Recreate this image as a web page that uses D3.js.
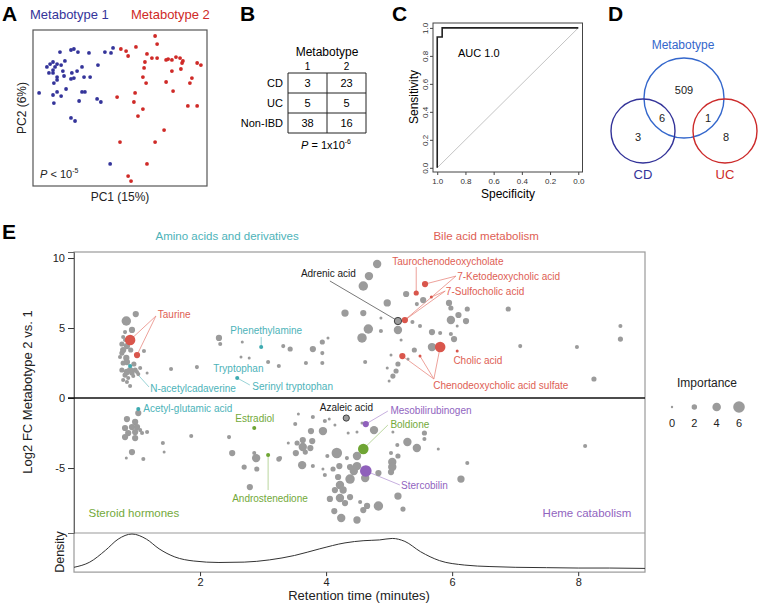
<!DOCTYPE html>
<html>
<head>
<meta charset="utf-8">
<script src="https://cdn.jsdelivr.net/npm/d3@7"></script>
<style>
  body { margin: 0; background: #fff; }
  svg { font-family: "Liberation Sans", Arial, Helvetica, sans-serif; }
</style>
</head>
<body>
<svg id="fig" width="758" height="604"></svg>
<script>
// ---------- data ----------
var metabotypeNames = ["Metabotype 1", "Metabotype 2"];

// panel A: PCA scores (PC1, PC2)
var pcaMetabotype1 = [[-20.7,21.5],[-16.9,22.3],[-15.9,22.7],[-14.5,21.5],[-10.7,21.2],[-5.2,21.5],[-2.4,23.1],[-3.1,21.2],
  [-19.0,18.1],[-23.1,17.7],[-24.1,16.9],[-21.7,16.9],[-20.3,16.5],[-25.2,15.8],[-22.4,15.8],[-23.1,14.6],[-19.7,14.2],
  [-16.6,13.5],[-14.8,14.2],[-13.1,15.8],[-7.6,16.5],[-24.5,13.5],[-23.1,13.5],[-21.7,11.9],[-21.7,10.8],[-19.3,12.3],
  [-16.9,11.2],[-15.9,11.5],[-12.4,11.9],[-10.3,11.9],[-22.8,9.6],[-18.6,7.3],[-27.9,5.8],[-21.7,6.2],[-20.3,4.6],
  [-23.1,5.0],[-13.1,6.2],[-12.1,6.2],[-14.1,2.7],[-7.9,3.5],[-6.6,2.3],[-22.8,1.9],[-16.9,-3.8],[-15.5,-5.0],[-3.4,-21.5]];
var pcaMetabotype2 = [[12.1,27.7],[12.8,24.6],[0.3,22.7],[2.1,21.9],[5.5,23.5],[2.8,20.0],[9.3,20.8],[11.0,19.2],[12.8,19.2],
  [15.9,18.5],[16.6,18.8],[17.9,18.5],[19.3,19.6],[20.7,19.2],[21.4,17.3],[8.6,17.7],[8.3,15.4],[17.9,14.2],[21.0,15.0],
  [26.6,17.3],[27.9,16.5],[7.9,11.9],[9.0,9.6],[15.9,10.0],[24.8,11.5],[24.1,9.6],[18.3,6.5],[5.2,5.8],[-1.0,4.2],
  [4.8,2.3],[23.4,0.8],[26.6,0.8],[7.9,-0.4],[6.2,-3.1],[15.2,-8.5],[0.0,-13.1],[12.1,-13.1],[9.3,-21.5],[2.8,-26.2],
  [3.8,-28.1],[21.7,18.1]];

// panel B: contingency table
var tableRows = ["CD", "UC", "Non-IBD"];
var tableMetabotype1 = [3, 5, 38];
var tableMetabotype2 = [23, 5, 16];

// panel C: ROC curve
var rocSpecificity = [1, 1, 0.965, 0.965, 0];
var rocSensitivity = [0, 0.935, 0.935, 1, 1];
var rocTicks = [1, 0.8, 0.6, 0.4, 0.2, 0];

// panel D: venn counts
var vennSets = ["Metabotype", "CD", "UC"];
var vennCounts = { metabotype: 509, metCD: 6, metUC: 1, cd: 3, uc: 8 };

// panel E: [retention time, log2 FC, importance]
var grayPoints = [
  [0.83,5.5,4.6],[0.98,6.0,2.5],[0.92,4.86,2.5],[0.78,4.36,1.1],[0.81,4.71,1.1],[0.84,3.71,2.5],[0.78,3.43,2.5],[0.76,3.21,1.8],
  [0.83,2.86,2.5],[0.84,2.57,2.5],[0.78,2.5,1.8],[0.89,2.0,2.5],[0.84,1.86,2.5],[0.76,2.0,1.8],[0.81,1.64,1.8],[0.92,1.79,1.8],
  [0.97,2.0,1.8],[1.0,1.86,1.1],[0.86,1.43,1.1],[0.84,1.14,1.1],[0.89,0.86,1.1],[0.78,1.29,1.1],[1.05,2.14,1.1],[1.11,3.36,1.1],
  [1.16,1.79,0.4],[0.94,1.57,1.1],[1.02,1.71,1.1],[0.81,4.14,1.1],[0.76,3.86,1.8],[0.9,3.43,1.8],[0.95,2.43,1.8],[0.73,2.93,1.1],
  [1.54,2.07,1.1],[1.95,2.21,1.1],[2.3,4.29,2.5],[2.32,3.86,1.1],[2.67,4.0,0.4],[2.65,2.93,0.4],[2.78,2.86,0.4],[3.08,2.57,1.1],
  [3.25,2.29,1.1],[3.32,3.71,1.1],[3.43,3.5,1.8],[3.68,2.5,1.1],[3.79,3.5,2.5],[3.94,4.0,1.8],[4.03,4.29,0.4],[3.94,3.21,1.1],
  [3.94,2.5,1.1],
  [4.81,9.57,3.9],[4.68,8.71,3.9],[4.59,8.0,4.6],[5.27,7.43,2.5],[5.54,7.0,2.5],[5.44,6.71,1.1],[4.97,6.79,3.2],[4.3,6.07,3.2],
  [4.59,6.07,2.5],[4.87,5.71,0.4],[5.37,5.43,1.1],[5.49,5.14,1.1],[4.67,4.93,4.6],[4.87,4.79,1.1],[5.14,4.86,3.9],[5.68,4.71,2.5],
  [5.81,4.64,1.1],[4.57,4.29,4.6],[5.19,4.14,0.4],[5.4,3.43,1.8],[5.68,3.64,3.9],[5.03,3.07,0.4],[5.3,2.79,0.4],[4.62,2.57,1.1],
  [5.14,2.43,1.8],[4.97,2.14,0.4],[5.11,1.93,1.8],[5.06,1.57,1.8],[5.0,1.21,0.4],
  [5.95,6.79,2.5],[5.98,6.43,1.8],[6.1,5.93,2.5],[6.24,6.36,1.8],[6.89,6.36,1.8],[5.98,5.57,3.9],[6.22,5.5,2.5],[6.08,5.14,0.4],
  [5.98,4.57,1.1],[6.03,4.21,2.5],[7.08,3.71,1.1],[7.98,3.64,1.1],[8.67,5.14,1.1],[8.67,4.21,1.8],[8.25,1.36,1.8],
  [1.02,-1.07,2.5],[0.84,-1.5,2.5],[0.97,-1.71,2.5],[0.92,-2.07,2.5],[0.81,-2.14,2.5],[1.0,-2.07,2.5],[1.05,-2.29,1.1],
  [0.86,-2.5,2.5],[0.97,-2.43,2.5],[0.81,-2.79,2.5],[0.97,-2.86,2.5],[1.08,-2.5,1.1],[1.16,-2.43,1.1],[0.92,-3.86,2.5],
  [0.83,-4.29,0.4],[1.1,-4.36,1.1],[1.41,-3.21,1.1],[1.43,-3.86,0.4],[1.86,-2.71,1.1],[2.46,-2.79,1.1],[2.51,-3.93,2.5],
  [2.86,-3.93,1.1],[2.89,-4.29,3.9],[2.7,-4.93,1.8],[2.9,-5.07,1.8],[3.25,-4.36,1.8],[2.79,-6.36,2.5],
  [3.56,-1.14,0.4],[3.79,-1.36,1.1],[3.98,-1.64,1.1],[4.05,-1.5,0.4],[4.14,-1.93,0.4],[3.51,-1.86,1.1],[3.76,-2.36,2.5],
  [3.95,-2.36,3.9],[4.76,-2.29,3.9],[4.57,-1.79,0.4],[4.35,-2.5,0.4],[4.49,-2.43,0.4],[5.06,-2.43,0.4],[5.56,-2.5,1.8],
  [5.56,-2.93,1.1],[5.29,-3.14,3.9],[5.13,-3.36,1.1],[5.44,-3.57,3.9],[5.78,-3.64,0.4],
  [3.4,-3.21,0.4],[3.54,-3.21,1.8],[3.63,-3.0,2.5],[3.78,-3.07,2.5],[3.63,-3.5,3.9],[3.75,-3.57,2.5],[3.52,-3.93,2.5],
  [3.67,-3.86,1.8],[3.27,-4.29,1.1],[4.02,-4.14,1.1],[4.17,-3.93,5.3],[4.49,-4.14,3.9],[4.33,-4.29,1.1],[4.49,-4.86,3.9],
  [4.44,-5.21,3.9],[5.03,-3.93,1.1],[5.14,-4.14,1.8],[5.05,-4.57,3.9],[5.05,-4.93,3.9],[5.03,-5.29,2.5],[3.62,-4.79,3.9],
  [3.79,-4.86,1.1],[3.95,-5.07,0.4],[4.11,-5.07,1.8],[4.21,-4.86,2.5],[4.38,-4.93,2.5],[4.83,-5.36,2.5],[4.62,-5.71,3.9],
  [4.38,-5.79,4.6],[4.19,-5.64,2.5],[4.22,-6.21,3.9],[3.98,-5.5,1.1],[4.14,-6.57,2.5],[4.27,-6.57,3.2],[4.38,-7.07,2.5],
  [4.22,-7.14,3.9],[4.3,-7.5,2.5],[4.54,-7.43,1.1],[4.65,-7.71,2.5],[4.59,-8.0,2.5],[4.83,-7.71,4.6],[5.22,-7.93,1.8],
  [4.24,-8.57,3.9],[4.49,-8.71,3.2],[4.06,-7.21,2.5],[4.13,-8.07,2.5],[5.14,-7.0,3.2],[6.24,-4.64,1.1],[6.14,-5.79,3.2],
  [8.11,-3.43,1.1]
];

// highlighted metabolites: [rt, log2FC, importance, class]
var highlightPoints = [
  [0.89,4.14,5.3,"bile"],      // 0 taurine
  [1.0,3.07,2.5,"bile"],       // 1 taurine
  [0.89,2.29,1.1,"amino"],     // 2 N-acetylcadaverine
  [2.97,3.64,1.1,"amino"],     // 3 phenethylamine
  [2.59,1.43,1.1,"amino"],     // 4 serinyl tryptophan
  [5.43,7.5,1.8,"bile"],       // 5 taurochenodeoxycholate
  [5.57,8.14,2.5,"bile"],      // 6 7-ketodeoxycholic
  [5.67,7.21,0.4,"bile"],      // 7 7-sulfocholic
  [5.25,5.57,2.5,"bile"],      // 8
  [6.08,3.36,0.4,"bile"],      // 9 cholic acid
  [5.21,3.0,2.5,"bile"],       // 10 CDCA sulfate
  [5.49,3.0,0.4,"bile"],       // 11
  [5.81,3.64,5.3,"bile"],      // 12
  [1.02,-0.79,1.1,"amino"],    // 13 acetyl-glutamic
  [2.86,-2.14,1.1,"steroid"],  // 14 estradiol
  [3.08,-4.07,1.1,"steroid"],  // 15 androstenedione
  [4.63,-1.86,2.5,"heme"],     // 16 mesobilirubinogen
  [4.59,-3.64,5.3,"steroid"],  // 17 boldione
  [4.63,-5.21,6.0,"heme"],     // 18 stercobilin
  [5.14,5.5,3.2,"other"],      // 19 adrenic acid
  [4.32,-1.43,2.5,"other"]     // 20 azaleic acid
];

// labels: text, class, label position (rt, fc), leader start, target points
var metaboliteLabels = [
  { text: "Taurine", cls: "bile", rt: 1.33, fc: 5.71, from: [1.3, 5.86], to: [0, 1] },
  { text: "Phenethylamine", cls: "amino", rt: 3.05, fc: 4.57, anchor: "middle", from: [2.97, 4.36], to: [3] },
  { text: "Tryptophan", cls: "amino", rt: 2.21, fc: 1.86, to: [] },
  { text: "Serinyl tryptophan", cls: "amino", rt: 2.83, fc: 0.57, from: [2.79, 0.93], to: [4] },
  { text: "N-acetylcadaverine", cls: "amino", rt: 1.21, fc: 0.43, from: [1.19, 0.79], to: [2] },
  { text: "Adrenic acid", cls: "other", rt: 3.6, fc: 8.64, from: [4.06, 8.36], to: [19] },
  { text: "Taurochenodeoxycholate", cls: "bile", rt: 5.05, fc: 9.5, from: [5.43, 9.36], to: [5] },
  { text: "7-Ketodeoxycholic acid", cls: "bile", rt: 6.08, fc: 8.43, from: [6.06, 8.71], to: [6, 8] },
  { text: "7-Sulfocholic acid", cls: "bile", rt: 5.9, fc: 7.36, from: [5.89, 7.64], to: [7, 8] },
  { text: "Cholic acid", cls: "bile", rt: 6.02, fc: 2.43, to: [] },
  { text: "Chenodeoxycholic acid sulfate", cls: "bile", rt: 5.7, fc: 0.64, from: [5.71, 1.36], to: [10, 11, 12] },
  { text: "Acetyl-glutamic acid", cls: "amino", rt: 1.1, fc: -1.0, to: [] },
  { text: "Estradiol", cls: "steroid", rt: 2.56, fc: -1.71, to: [] },
  { text: "Androstenedione", cls: "steroid", rt: 2.51, fc: -7.43, from: [3.08, -6.57], to: [15] },
  { text: "Azaleic acid", cls: "other", rt: 3.9, fc: -0.93, to: [] },
  { text: "Mesobilirubinogen", cls: "heme", rt: 5.02, fc: -1.14, from: [4.98, -0.93], to: [16] },
  { text: "Boldione", cls: "steroid", rt: 5.02, fc: -2.14, from: [4.98, -1.93], to: [17] },
  { text: "Stercobilin", cls: "heme", rt: 5.19, fc: -6.5, from: [5.17, -6.21], to: [18] }
];

var classHeadings = [
  { text: "Amino acids and derivatives", cls: "amino", rt: 2.43, fc: 11.3 },
  { text: "Bile acid metabolism", cls: "bile", rt: 6.54, fc: 11.3 },
  { text: "Steroid hormones", cls: "steroid", rt: 0.95, fc: -8.5 },
  { text: "Heme catabolism", cls: "heme", rt: 8.14, fc: -8.5 }
];

// density of retention times
var densityRt = [0, 0.25, 0.5, 0.7, 0.92, 1.15, 1.35, 1.6, 1.9, 2.3, 2.7, 3.1, 3.5, 3.9, 4.3, 4.6, 4.85, 5.05, 5.25, 5.5, 5.8, 6.2, 6.6, 7.0, 7.5, 8.0, 8.5, 9.06];
var densityValue = [0.1, 0.24, 0.56, 0.86, 1.0, 0.86, 0.6, 0.38, 0.27, 0.23, 0.24, 0.3, 0.42, 0.6, 0.76, 0.82, 0.84, 0.88, 0.8, 0.52, 0.28, 0.16, 0.12, 0.1, 0.09, 0.08, 0.08, 0.07];

var importanceTicks = [0, 2, 4, 6];
var yTicksE = [10, 5, 0, -5];
var xTicksE = [2, 4, 6, 8];

// ---------- drawing ----------
var svg = d3.select("#fig");
var navy = "#34349a", red = "#cf2a27";

var pointColor = { amino: "#3eaab0", bile: "#d9564c", steroid: "#6fa534", heme: "#8f60bb", other: "#9b9b9b" };
var labelColor = { amino: "#4db3b9", bile: "#de5e54", steroid: "#73a93a", heme: "#9164c0", other: "#1a1a1a" };
var lineColor = { amino: "#7fc8cc", bile: "#e88a82", steroid: "#a8cc85", heme: "#b79bd6", other: "#555" };

function panelLetter(t, x, y) {
  svg.append("text").attr("x", x).attr("y", y).attr("font-size", 21).attr("font-weight", "bold").text(t);
}
panelLetter("A", 2, 21);
panelLetter("B", 240, 21);
panelLetter("C", 392, 21);
panelLetter("D", 608, 21);
panelLetter("E", 2, 239);

// ----- A -----
var xA = d3.scaleLinear().domain([-30, 30]).range([33, 207]);
var yA = d3.scaleLinear().domain([-30, 30]).range([186, 30]);

svg.append("text").attr("x", 30).attr("y", 19).attr("font-size", 13).attr("fill", navy).text(metabotypeNames[0]);
svg.append("text").attr("x", 131).attr("y", 19).attr("font-size", 13).attr("fill", red).text(metabotypeNames[1]);

svg.append("rect").attr("x", xA(-30)).attr("y", yA(30))
    .attr("width", xA(30) - xA(-30)).attr("height", yA(-30) - yA(30))
    .attr("fill", "none").attr("stroke", "#555").attr("stroke-width", 1.2);

svg.selectAll(".pca1").data(pcaMetabotype1).enter().append("circle")
    .attr("cx", d => xA(d[0])).attr("cy", d => yA(d[1])).attr("r", 1.9).attr("fill", navy);
svg.selectAll(".pca2").data(pcaMetabotype2).enter().append("circle")
    .attr("cx", d => xA(d[0])).attr("cy", d => yA(d[1])).attr("r", 1.9).attr("fill", red);

svg.append("text").attr("x", 120).attr("y", 201).attr("font-size", 12)
    .attr("text-anchor", "middle").attr("fill", "#222").text("PC1 (15%)");
svg.append("text").attr("transform", "translate(26,108) rotate(-90)").attr("font-size", 12)
    .attr("text-anchor", "middle").attr("fill", "#222").text("PC2 (6%)");
var pA = svg.append("text").attr("x", 40).attr("y", 178).attr("font-size", 11).attr("fill", "#222");
pA.append("tspan").attr("font-style", "italic").text("P");
pA.append("tspan").text(" < 10");
pA.append("tspan").attr("dy", -5).attr("font-size", 7).text("-5");

// ----- B -----
var tableLeft = 288, colW = 39, tableTop = 73, rowH = 20;
svg.append("text").attr("x", tableLeft + colW).attr("y", 56).attr("font-size", 12)
    .attr("text-anchor", "middle").text("Metabotype");
["1", "2"].forEach((t, i) => {
  svg.append("text").attr("x", tableLeft + colW * (i + 0.5)).attr("y", 70).attr("font-size", 10)
      .attr("text-anchor", "middle").text(t);
});
tableRows.forEach((row, i) => {
  var cy = tableTop + rowH * (i + 0.5) + 4;
  svg.append("text").attr("x", tableLeft - 5).attr("y", cy).attr("font-size", 11)
      .attr("text-anchor", "end").text(row);
  [tableMetabotype1[i], tableMetabotype2[i]].forEach((v, j) => {
    svg.append("text").attr("x", tableLeft + colW * (j + 0.5)).attr("y", cy).attr("font-size", 11)
        .attr("text-anchor", "middle").text(v);
  });
});
var grid = svg.append("g").attr("stroke", "#222").attr("stroke-width", 1);
for (var i = 0; i <= tableRows.length; i++) {
  grid.append("line").attr("x1", tableLeft).attr("x2", tableLeft + 2 * colW)
      .attr("y1", tableTop + i * rowH).attr("y2", tableTop + i * rowH);
}
for (var j = 0; j <= 2; j++) {
  grid.append("line").attr("x1", tableLeft + j * colW).attr("x2", tableLeft + j * colW)
      .attr("y1", tableTop).attr("y2", tableTop + tableRows.length * rowH);
}
var pB = svg.append("text").attr("x", 326).attr("y", 149).attr("font-size", 11).attr("text-anchor", "middle");
pB.append("tspan").attr("font-style", "italic").text("P");
pB.append("tspan").text(" = 1x10");
pB.append("tspan").attr("dy", -5).attr("font-size", 7).text("-6");

// ----- C -----
var xC = d3.scaleLinear().domain([1.03, -0.03]).range([433, 582.5]);
var yC = d3.scaleLinear().domain([-0.03, 1.035]).range([172, 23]);

svg.append("line").attr("x1", xC(1)).attr("y1", yC(0)).attr("x2", xC(0)).attr("y2", yC(1))
    .attr("stroke", "#c4c4c4").attr("stroke-width", 1);
svg.append("rect").attr("x", xC(1.03)).attr("y", yC(1.035))
    .attr("width", xC(-0.03) - xC(1.03)).attr("height", yC(-0.03) - yC(1.035))
    .attr("fill", "none").attr("stroke", "#444").attr("stroke-width", 1);

var rocLine = d3.line().x(d => xC(d[0])).y(d => yC(d[1]));
svg.append("path").datum(d3.zip(rocSpecificity, rocSensitivity))
    .attr("d", rocLine).attr("fill", "none").attr("stroke", "#222").attr("stroke-width", 1.6);

svg.append("g").attr("transform", "translate(0," + yC(-0.03) + ")")
    .call(d3.axisBottom(xC).tickValues(rocTicks).tickFormat(d3.format(".1f")).tickSize(3))
    .call(g => g.select(".domain").remove())
    .call(g => g.selectAll("text").attr("font-size", 8).attr("fill", "#333").attr("font-family", null))
    .call(g => g.selectAll("line").attr("stroke", "#444"));
var yAxC = svg.append("g").attr("transform", "translate(" + xC(1.03) + ",0)")
    .call(d3.axisLeft(yC).tickValues(rocTicks).tickFormat(d3.format(".1f")).tickSize(3))
    .call(g => g.select(".domain").remove())
    .call(g => g.selectAll("line").attr("stroke", "#444"));
yAxC.selectAll("text").attr("font-size", 8).attr("fill", "#333").attr("font-family", null)
    .attr("x", null).attr("dy", null)
    .attr("transform", "translate(-5,0) rotate(-90)").attr("text-anchor", "middle");

svg.append("text").attr("x", 458).attr("y", 57).attr("font-size", 11).text("AUC 1.0");
svg.append("text").attr("x", 508).attr("y", 198).attr("font-size", 12).attr("text-anchor", "middle").text("Specificity");
svg.append("text").attr("transform", "translate(418,97) rotate(-90)").attr("font-size", 12)
    .attr("text-anchor", "middle").text("Sensitivity");

// ----- D -----
var vennColor = ["#3467cc", "#333399", "#cc2a2a"];
var vennGeom = [{ cx: 684, cy: 98, r: 40 }, { cx: 643, cy: 131, r: 32 }, { cx: 725, cy: 131, r: 32 }];
vennGeom.forEach((c, i) => {
  svg.append("circle").attr("cx", c.cx).attr("cy", c.cy).attr("r", c.r)
      .attr("fill", "none").attr("stroke", vennColor[i]).attr("stroke-width", 1.4);
});
svg.append("text").attr("x", 683).attr("y", 49).attr("font-size", 12).attr("text-anchor", "middle")
    .attr("fill", vennColor[0]).text(vennSets[0]);
svg.append("text").attr("x", 643).attr("y", 179).attr("font-size", 13).attr("text-anchor", "middle")
    .attr("fill", vennColor[1]).text(vennSets[1]);
svg.append("text").attr("x", 725).attr("y", 179).attr("font-size", 13).attr("text-anchor", "middle")
    .attr("fill", vennColor[2]).text(vennSets[2]);
var vennNums = [[vennCounts.metabotype, 684, 94], [vennCounts.metCD, 662, 122], [vennCounts.metUC, 708, 122],
                [vennCounts.cd, 638, 141], [vennCounts.uc, 726, 141]];
vennNums.forEach(d => {
  svg.append("text").attr("x", d[1]).attr("y", d[2]).attr("font-size", 11)
      .attr("text-anchor", "middle").attr("fill", "#222").text(d[0]);
});

// ----- E -----
var xE = d3.scaleLinear().domain([0, 9.06]).range([74, 645]);
var yE = d3.scaleLinear().domain([-9.64, 10.43]).range([533, 252]);
var rE = d3.scaleLinear().domain([0, 6]).range([1.2, 5.8]);
var yD = d3.scaleLinear().domain([0, 1]).range([571, 534]);

var frame = svg.append("g").attr("fill", "none").attr("stroke", "#9a9a9a").attr("stroke-width", 1.2);
frame.append("rect").attr("x", xE(0)).attr("y", yE(10.43)).attr("width", xE(9.06) - xE(0))
    .attr("height", yD(-0.03) - yE(10.43));
frame.append("line").attr("x1", xE(0)).attr("x2", xE(9.06)).attr("y1", yE(-9.64)).attr("y2", yE(-9.64));

// y axis
svg.append("g").attr("transform", "translate(" + xE(0) + ",0)")
    .call(d3.axisLeft(yE).tickValues(yTicksE).tickSize(6).tickPadding(3).tickFormat(d => d < 0 ? "-" + (-d) : d))
    .call(g => g.select(".domain").attr("stroke", "#666"))
    .call(g => g.selectAll("text").attr("font-size", 11).attr("fill", "#222").attr("font-family", null))
    .call(g => g.selectAll("line").attr("stroke", "#333"));

// x axis under density
svg.append("g").attr("transform", "translate(0," + yD(-0.03) + ")")
    .call(d3.axisBottom(xE).tickValues(xTicksE).tickSize(4).tickPadding(2))
    .call(g => g.select(".domain").remove())
    .call(g => g.selectAll("text").attr("font-size", 11).attr("fill", "#222").attr("font-family", null))
    .call(g => g.selectAll("line").attr("stroke", "#333"));

// zero line
svg.append("line").attr("x1", xE(0) - 6).attr("x2", xE(9.06)).attr("y1", yE(0)).attr("y2", yE(0))
    .attr("stroke", "#111").attr("stroke-width", 1.6);

// density
var densLine = d3.line().x(d => xE(d[0])).y(d => yD(d[1])).curve(d3.curveMonotoneX);
svg.append("path").datum(d3.zip(densityRt, densityValue)).attr("d", densLine)
    .attr("fill", "none").attr("stroke", "#333").attr("stroke-width", 1);

// leader lines
metaboliteLabels.forEach(lab => {
  lab.to.forEach(k => {
    var p = highlightPoints[k];
    svg.append("line").attr("x1", xE(lab.from[0])).attr("y1", yE(lab.from[1]))
        .attr("x2", xE(p[0])).attr("y2", yE(p[1]))
        .attr("stroke", lineColor[lab.cls]).attr("stroke-width", 0.8);
  });
});

// points
svg.append("g").selectAll("circle").data(grayPoints).enter().append("circle")
    .attr("cx", d => xE(d[0])).attr("cy", d => yE(d[1])).attr("r", d => rE(d[2]))
    .attr("fill", "#9b9b9b");
svg.append("g").selectAll("circle").data(highlightPoints).enter().append("circle")
    .attr("cx", d => xE(d[0])).attr("cy", d => yE(d[1])).attr("r", d => rE(d[2]))
    .attr("fill", d => pointColor[d[3]])
    .attr("stroke", d => d[3] === "other" ? "#333" : "none").attr("stroke-width", 0.9);

// labels
metaboliteLabels.forEach(lab => {
  svg.append("text").attr("x", xE(lab.rt)).attr("y", yE(lab.fc)).attr("font-size", 10)
      .attr("text-anchor", lab.anchor || "start").attr("fill", labelColor[lab.cls]).text(lab.text);
});
classHeadings.forEach(h => {
  svg.append("text").attr("x", xE(h.rt)).attr("y", yE(h.fc)).attr("font-size", 11.5)
      .attr("text-anchor", "middle").attr("fill", labelColor[h.cls]).text(h.text);
});

// axis titles
svg.append("text").attr("transform", "translate(32,392) rotate(-90)").attr("font-size", 13)
    .attr("text-anchor", "middle").attr("fill", "#222").text("Log2 FC Metabotype 2 vs. 1");
svg.append("text").attr("transform", "translate(64,552) rotate(-90)").attr("font-size", 12.5)
    .attr("text-anchor", "middle").attr("fill", "#222").text("Density");
svg.append("text").attr("x", 359).attr("y", 600).attr("font-size", 13)
    .attr("text-anchor", "middle").attr("fill", "#222").text("Retention time (minutes)");

// importance legend
var xLeg = d3.scalePoint().domain(importanceTicks).range([672, 739]);
svg.append("text").attr("x", 707).attr("y", 387).attr("font-size", 12)
    .attr("text-anchor", "middle").attr("fill", "#222").text("Importance");
svg.selectAll(".leg").data(importanceTicks).enter().append("circle")
    .attr("cx", d => xLeg(d)).attr("cy", 407).attr("r", d => rE(d)).attr("fill", "#9b9b9b");
svg.selectAll(".legt").data(importanceTicks).enter().append("text")
    .attr("x", d => xLeg(d)).attr("y", 427).attr("font-size", 11)
    .attr("text-anchor", "middle").attr("fill", "#222").text(d => d);
</script>
</body>
</html>
